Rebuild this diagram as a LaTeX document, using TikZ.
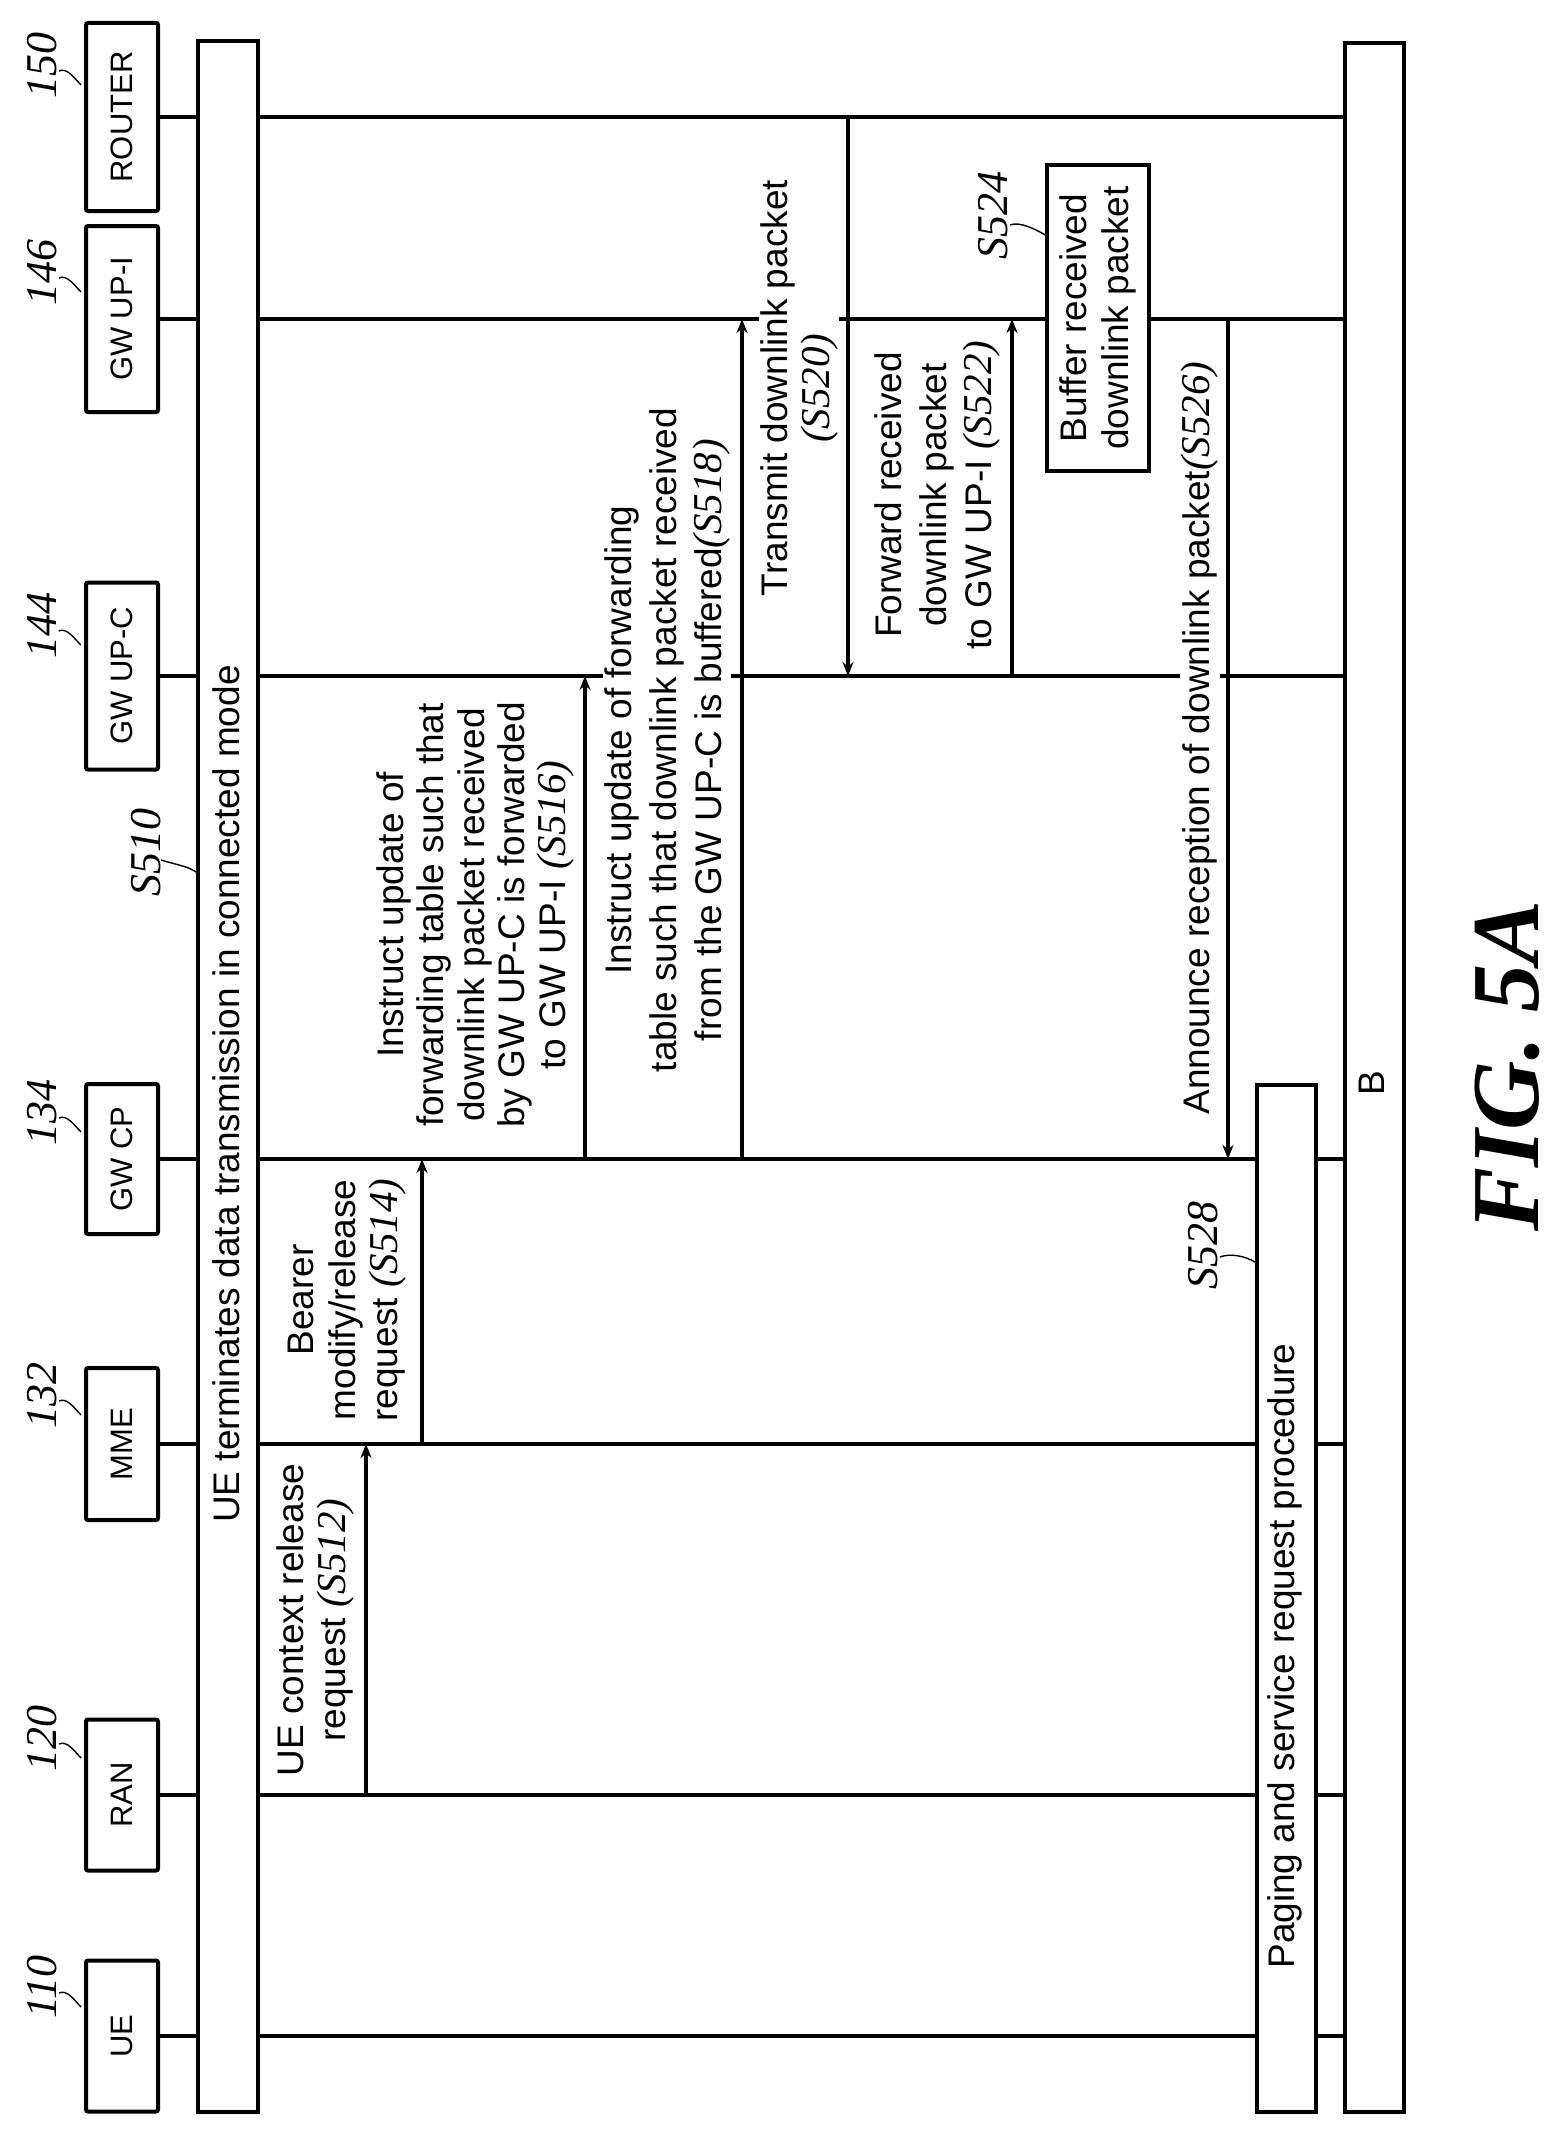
\documentclass[tikz,border=0pt]{standalone}
\usepackage{fontspec}
\setmainfont{Liberation Sans}
\newfontfamily\refserif{Liberation Serif}
\usetikzlibrary{arrows.meta}
\newcommand\stepno[1]{{\refserif\itshape\fontsize{41}{41}\selectfont #1}}
\begin{document}
\begin{tikzpicture}[x=1pt,y=-1pt,
  actor/.style={draw,line width=4pt,rounded corners=2pt,rotate=90,minimum height=72pt,inner sep=0pt,font=\fontsize{31}{36}\selectfont},
  bar/.style={draw,line width=4pt,fill=white},
  life/.style={line width=3.5pt},
  msg/.style={line width=3.5pt,-{Stealth[length=14pt,width=11pt,open]}},
  txt/.style={rotate=90,align=center,font=\fontsize{37}{42}\selectfont,inner sep=1pt,fill=white},
  ref/.style={rotate=90,font=\refserif\itshape\fontsize{44}{48}\selectfont,inner sep=0pt},
  lead/.style={line width=1.4pt}]
\useasboundingbox (0,0) rectangle (1566,2133);
% actors
\node[actor,minimum width=188pt] (router) at (122,117) {ROUTER};
\node[actor,minimum width=186pt] (upi) at (122,319) {GW UP-I};
\node[actor,minimum width=187pt] (upc) at (122,676) {GW UP-C};
\node[actor,minimum width=150pt] (cp) at (122,1159) {GW CP};
\node[actor,minimum width=152pt] (mme) at (122,1444) {MME};
\node[actor,minimum width=151pt] (ran) at (122,1795) {RAN};
\node[actor,minimum width=151pt] (ue) at (122,2036) {UE};
% reference labels
\node[ref] (r150) at (42,65) {150};
\node[ref] (r146) at (42,272) {146};
\node[ref] (r144) at (42,625) {144};
\node[ref] (r134) at (42,1112) {134};
\node[ref] (r132) at (42,1395) {132};
\node[ref] (r120) at (42,1738) {120};
\node[ref] (r110) at (42,1987) {110};
\foreach \r in {r150,r146,r144,r134,r132,r120,r110}{
  \draw[lead] (\r.south) ++(2,6) .. controls +(8,-4) and +(-6,-6) .. ++(22,14);
}
% lifelines
\foreach \a/\y in {router/117,upi/319,upc/676,cp/1159,mme/1444,ran/1795,ue/2036}{
  \coordinate (\a-end) at (1343,\y);
  \draw[life] (\a.south) -- (\a-end);
}
% bars
\node[bar,minimum width=60pt,minimum height=2071pt,inner sep=0pt,anchor=north west] (s510box) at (196,39) {};
\node[txt] (s510t) at (226,1094) {UE terminates data transmission in connected mode};
\node[bar,minimum width=59pt,minimum height=1027pt,inner sep=0pt,anchor=north west] (paging) at (1255,1083) {};
\node[txt] (pagingt) at (1285,1656) {Paging and service request procedure};
\node[bar,minimum width=59pt,minimum height=2069pt,inner sep=0pt,anchor=north west] (bbox) at (1343,41) {};
\node[txt] (bt) at (1372,1083) {B};
% S510 ref
\node[ref] (s510) at (146,852) {S510};
\draw[lead] (s510.south) ++(0,8) .. controls +(12,4) and +(-8,-6) .. (196,872);
% message texts
\node[txt] (t512) at (315,1620) {UE context release\\request \stepno{(S512)}};
\node[txt] (t514) at (347,1300) {Bearer\\modify/release\\request \stepno{(S514)}};
\node[txt,font=\fontsize{37}{40.5}\selectfont] (t516) at (475,915) {Instruct update of\\forwarding table such that\\downlink packet received\\by GW UP-C is forwarded\\to GW UP-I \stepno{(S516)}};
\node[txt,font=\fontsize{37}{45}\selectfont] (t518) at (667,740) {Instruct update of forwarding\\table such that downlink packet received\\from the GW UP-C is buffered\stepno{(S518)}};
\node[txt] (t520) at (799,388) {Transmit downlink packet\\\stepno{(S520)}};
\node[txt,font=\fontsize{37}{45}\selectfont] (t522) at (937,495) {Forward received\\downlink packet\\to GW UP-I \stepno{(S522)}};
\node[txt] (t526) at (1200,738) {Announce reception of downlink packet\stepno{(S526)}};
% coordinates for messages
\coordinate (m512a) at (366,1795); \coordinate (m512b) at (366,1444);
\coordinate (m514a) at (422,1444); \coordinate (m514b) at (422,1159);
\coordinate (m516a) at (585,1159); \coordinate (m516b) at (585,676);
\coordinate (m518a) at (742,1159); \coordinate (m518b) at (742,319);
\coordinate (m520a) at (848,117);  \coordinate (m520b) at (848,676);
\coordinate (m522a) at (1012,676); \coordinate (m522b) at (1012,319);
\coordinate (m526a) at (1228,319); \coordinate (m526b) at (1228,1159);
\draw[msg] (m512a) -- (m512b);
\draw[msg] (m514a) -- (m514b);
\draw[msg] (m516a) -- (m516b);
\draw[msg] (m518a) -- (m518b);
\draw[msg] (m520a) -- (m520b);
\draw[msg] (m522a) -- (m522b);
\draw[msg] (m526a) -- (m526b);
% S524 box
\node[draw,line width=3.5pt,fill=white,rotate=90,minimum width=306pt,minimum height=102pt,inner sep=0pt,align=center,font=\fontsize{37}{42}\selectfont] (s524box) at (1098,318) {Buffer received\\downlink packet};
\node[ref] (s524) at (993,215) {S524};
\draw[lead] (s524.south) ++(2,10) .. controls +(10,-4) and +(-10,-6) .. (1047,236);
% S528
\node[ref] (s528) at (1203,1245) {S528};
\draw[lead] (s528.south) ++(2,12) .. controls +(10,-4) and +(-10,-6) .. (1255,1262);
% figure title
\node[rotate=90,font=\refserif\bfseries\itshape\fontsize{96}{100}\selectfont] (fig) at (1507,1066) {FIG. 5A};
\end{tikzpicture}
\end{document}
